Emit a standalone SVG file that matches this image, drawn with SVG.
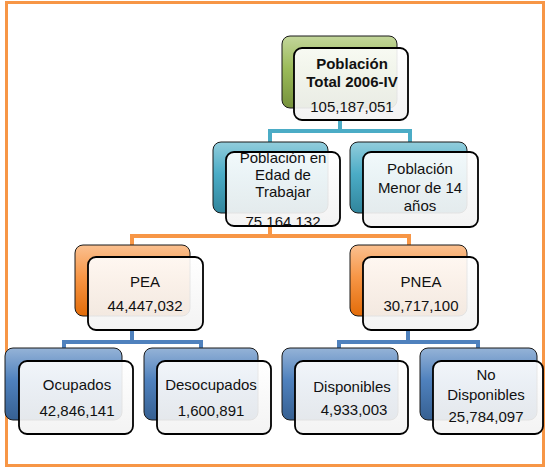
<svg xmlns="http://www.w3.org/2000/svg" width="549" height="470" viewBox="0 0 549 470">
<defs>
<linearGradient id="gGreen" x1="0" y1="0" x2="0" y2="1"><stop offset="0" stop-color="#c3d69b"/><stop offset="0.45" stop-color="#9bbb59"/><stop offset="1" stop-color="#76923c"/></linearGradient>
<linearGradient id="gAqua" x1="0" y1="0" x2="0" y2="1"><stop offset="0" stop-color="#92cddc"/><stop offset="0.45" stop-color="#4bacc6"/><stop offset="1" stop-color="#31859c"/></linearGradient>
<linearGradient id="gOrange" x1="0" y1="0" x2="0" y2="1"><stop offset="0" stop-color="#fac090"/><stop offset="0.45" stop-color="#f79646"/><stop offset="1" stop-color="#e36c09"/></linearGradient>
<linearGradient id="gBlue" x1="0" y1="0" x2="0" y2="1"><stop offset="0" stop-color="#95b3d7"/><stop offset="0.45" stop-color="#4f81bd"/><stop offset="1" stop-color="#366092"/></linearGradient>
<linearGradient id="gFront" x1="0" y1="0" x2="0" y2="1"><stop offset="0" stop-color="#ffffff" stop-opacity="0.9"/><stop offset="1" stop-color="#f2f2f2" stop-opacity="0.92"/></linearGradient>
<clipPath id="clipEdad"><rect x="226" y="152" width="114" height="74" rx="8"/></clipPath>
</defs>
<style>
.back{stroke:#1a1a1a;stroke-width:1}
.front{fill:url(#gFront);stroke:#000;stroke-width:1.8}
.t{font-family:"Liberation Sans",Arial,sans-serif;font-size:15px;fill:#111;text-anchor:middle}
.b{font-weight:bold}
.c{fill:none;stroke-width:4}
</style>
<rect x="6.5" y="2.5" width="537" height="463" fill="#fff" stroke="#f79646" stroke-width="3"/>
<g id="connectors">
<path class="c" stroke="#4bacc6" d="M340,120 V131 M270,142 V131 H410 V142"/>
<path class="c" stroke="#f79646" d="M270,226 V236 M132,245 V236 H409 V245"/>
<path class="c" stroke="#4f81bd" d="M132,330 V342 M64,348 V342 H201 V348"/>
<path class="c" stroke="#4f81bd" d="M408,330 V342 M339,348 V342 H478 V348"/>
</g>
<g id="n-total">
<rect class="back" x="282" y="36" width="115" height="72" rx="8" fill="url(#gGreen)"/>
<rect class="front" x="294" y="48" width="114" height="72" rx="8"/>
<text class="t b" x="352" y="69">Población</text>
<text class="t b" x="352" y="87">Total 2006-IV</text>
<text class="t" x="352" y="112">105,187,051</text>
</g>
<g id="n-edad">
<rect class="back" x="213" y="142" width="115" height="71" rx="8" fill="url(#gAqua)"/>
<rect class="front" x="226" y="152" width="114" height="74" rx="8"/>
<text class="t" x="283" y="163">Población en</text>
<text class="t" x="283" y="180">Edad de</text>
<text class="t" x="283" y="197">Trabajar</text>
<text class="t" x="283" y="227" clip-path="url(#clipEdad)">75 164,132</text>
</g>
<g id="n-menor">
<rect class="back" x="350" y="142" width="117" height="71" rx="8" fill="url(#gAqua)"/>
<rect class="front" x="363" y="152" width="115" height="75" rx="8"/>
<text class="t" x="420" y="174">Población</text>
<text class="t" x="420" y="193">Menor de 14</text>
<text class="t" x="420" y="211">años</text>
</g>
<g id="n-pea">
<rect class="back" x="75" y="245" width="115" height="71" rx="8" fill="url(#gOrange)"/>
<rect class="front" x="88" y="257" width="115" height="73" rx="8"/>
<text class="t" x="145" y="287">PEA</text>
<text class="t" x="145" y="311">44,447,032</text>
</g>
<g id="n-pnea">
<rect class="back" x="350" y="245" width="117" height="71" rx="8" fill="url(#gOrange)"/>
<rect class="front" x="363" y="257" width="115" height="73" rx="8"/>
<text class="t" x="421" y="287">PNEA</text>
<text class="t" x="421" y="311">30,717,100</text>
</g>
<g id="n-ocupados">
<rect class="back" x="5" y="348" width="117" height="72" rx="8" fill="url(#gBlue)"/>
<rect class="front" x="19" y="361" width="114" height="73" rx="8"/>
<text class="t" x="77" y="390">Ocupados</text>
<text class="t" x="77" y="416">42,846,141</text>
</g>
<g id="n-desocupados">
<rect class="back" x="144" y="348" width="114" height="72" rx="8" fill="url(#gBlue)"/>
<rect class="front" x="157" y="361" width="114" height="73" rx="8"/>
<text class="t" x="211" y="390">Desocupados</text>
<text class="t" x="211" y="416">1,600,891</text>
</g>
<g id="n-disponibles">
<rect class="back" x="282" y="348" width="116" height="72" rx="8" fill="url(#gBlue)"/>
<rect class="front" x="295" y="361" width="113" height="73" rx="8"/>
<text class="t" x="352" y="392">Disponibles</text>
<text class="t" x="354" y="415">4,933,003</text>
</g>
<g id="n-nodisponibles">
<rect class="back" x="420" y="348" width="117" height="72" rx="8" fill="url(#gBlue)"/>
<rect class="front" x="433" y="361" width="110" height="73" rx="8"/>
<text class="t" x="486" y="380">No</text>
<text class="t" x="486" y="400">Disponibles</text>
<text class="t" x="486" y="422">25,784,097</text>
</g>
</svg>
